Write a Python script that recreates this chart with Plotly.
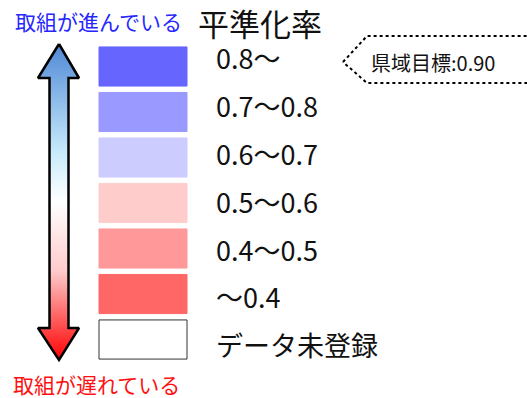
import plotly.graph_objects as go

# legend classes (top = best)
labels = ["0.8〜", "0.7〜0.8", "0.6〜0.7", "0.5〜0.6", "0.4〜0.5", "〜0.4", "データ未登録"]
colors = ["#6666FF", "#9999FF", "#CCCCFF", "#FFCCCC", "#FF9999", "#FF6666", "#FFFFFF"]
edge_colors = ["#6666FF", "#9999FF", "#CCCCFF", "#FFCCCC", "#FF9999", "#FF6666", "#333333"]

title = "平準化率"
top_label = "取組が進んでいる"
bottom_label = "取組が遅れている"
target_label = "県域目標:0.90"

FONT = "Noto Sans CJK JP, Noto Sans, sans-serif"
W, H = 527, 398

fig = go.Figure()

# colour boxes on a categorical axis
fig.add_trace(go.Bar(
    y=labels, x=[88] * len(labels), base=99,
    orientation="h", width=0.86,
    marker=dict(color=colors, line=dict(color=edge_colors, width=1)),
    xaxis="x", yaxis="y2", hoverinfo="skip",
))
fig.add_trace(go.Scatter(
    y=labels, x=[216] * len(labels), mode="text", text=labels,
    textposition="middle right",
    textfont=dict(family=FONT, size=27, color="#111111"),
    xaxis="x", yaxis="y3", hoverinfo="skip",
))

# double-headed gradient arrow (decoration, pixel coords)
ax = [59, 79, 68.5, 68.5, 79, 59, 38, 49.5, 49.5, 38, 59]
ay = [44, 78, 78, 328, 328, 360, 328, 328, 78, 78, 44]
fig.add_trace(go.Scatter(
    x=ax, y=ay, mode="lines", fill="toself",
    line=dict(color="black", width=2.5),
    fillgradient=dict(type="vertical", start=44, stop=360, colorscale=[
        [0, "#4f88d6"], [0.34, "#c6eafb"], [0.5, "#ffffff"],
        [0.72, "#ffcaca"], [1, "#ff0000"]]),
    hoverinfo="skip",
))

# dotted callout for the prefecture target
fig.add_trace(go.Scatter(
    x=[343, 367, 535, 535, 367, 343], y=[62, 36, 36, 83, 83, 62],
    mode="lines", line=dict(color="black", width=2, dash="dot"),
    hoverinfo="skip",
))

fig.add_annotation(x=98, y=21, text=top_label, showarrow=False,
                   font=dict(family=FONT, size=21, color="#2626ff"))
fig.add_annotation(x=96, y=384, text=bottom_label, showarrow=False,
                   font=dict(family=FONT, size=21, color="#ff1010"))
fig.add_annotation(x=196, y=22, text=title, showarrow=False, xanchor="left",
                   font=dict(family=FONT, size=31, color="#111111"))
fig.add_annotation(x=369, y=62, text=target_label, showarrow=False, xanchor="left",
                   font=dict(family=FONT, size=20, color="#111111"))

# label axis nudged ~3px lower than the box axis to centre the glyphs
dom_box = [1 - 362.25 / H, 1 - 43.75 / H]
dom_txt = [dom_box[0] - 3 / H, dom_box[1] - 3 / H]

fig.update_layout(
    width=W, height=H,
    margin=dict(l=0, r=0, t=0, b=0),
    paper_bgcolor="white", plot_bgcolor="rgba(0,0,0,0)",
    showlegend=False,
    xaxis=dict(range=[0, W], visible=False, fixedrange=True),
    yaxis=dict(range=[H, 0], visible=False, fixedrange=True),
    yaxis2=dict(type="category", autorange="reversed", visible=False,
                domain=dom_box, anchor="x"),
    yaxis3=dict(type="category", autorange="reversed", visible=False,
                domain=dom_txt, anchor="x"),
)

fig.write_html("out.html", config={"displayModeBar": False},
               post_script="document.body.style.margin='0';")
